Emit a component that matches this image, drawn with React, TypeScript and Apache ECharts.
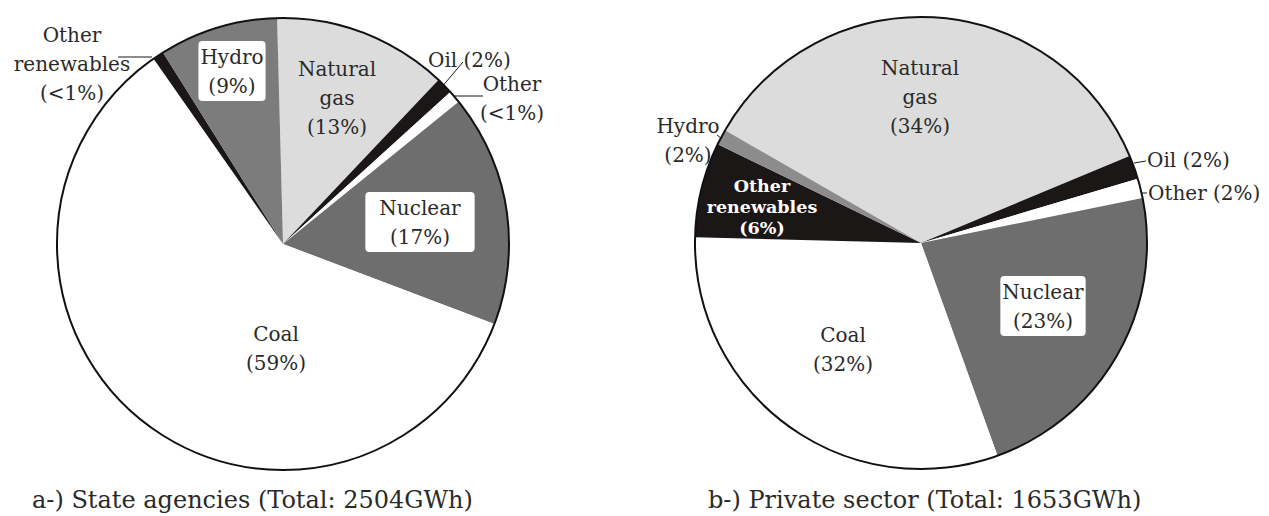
import React, { useEffect, useRef } from "react";
import * as echarts from "echarts";

// ---- data ----
const CATEGORIES = ["Natural gas", "Oil", "Other", "Nuclear", "Coal", "Other renewables", "Hydro"];
const STATE_VALUES = [12.5, 1.2, 0.9, 16.6, 59.6, 0.8, 8.5];
const PRIVATE_VALUES = [35.4, 1.7, 1.4, 22.7, 30.9, 6.8, 1.1];
const STATE_PCT = ["13%", "2%", "<1%", "17%", "59%", "<1%", "9%"];
const PRIVATE_PCT = ["34%", "2%", "2%", "23%", "32%", "6%", "2%"];
const LABEL_NAMES = ["Natural\ngas", "Oil", "Other", "Nuclear", "Coal", "Other\nrenewables", "Hydro"];
const TITLES = ["a-) State agencies (Total: 2504GWh)", "b-) Private sector (Total: 1653GWh)"];

// ---- styles / layout ----
const FONT = "DejaVu Serif";
const TEXT = "#2a2a2a";
const COLORS_A = ["#dcdcdc", "#1c1717", "#ffffff", "#6e6e6e", "#ffffff", "#1c1717", "#7c7c7c"];
const COLORS_B = ["#dcdcdc", "#1c1717", "#ffffff", "#6e6e6e", "#ffffff", "#1c1717", "#8c8c8c"];

type LStyle = {
  x: number; y: number; align?: string; boxed?: boolean; pad?: number[]; sep?: string;
  line?: number[][]; bold?: boolean; color?: string; size?: number; lh?: number;
};

const LAYOUT_A: LStyle[] = [
  { x: 337, y: 98 },
  { x: 428, y: 60, align: "left", sep: " ", line: [[441, 88], [452, 75], [463, 62]] },
  { x: 512, y: 98, line: [[451, 96], [467, 96], [483, 96]] },
  { x: 420, y: 222, boxed: true, pad: [1, 14] },
  { x: 276, y: 348 },
  { x: 72, y: 64, line: [[152, 57], [135, 57], [118, 57]] },
  { x: 232, y: 71, boxed: true, pad: [1, 2] },
];
const LAYOUT_B: LStyle[] = [
  { x: 920, y: 97 },
  { x: 1147, y: 160, align: "left", sep: " ", line: [[1134, 163], [1140, 162], [1146, 161]] },
  { x: 1148, y: 193, align: "left", sep: " ", line: [[1137, 193], [1142, 193], [1147, 193]] },
  { x: 1043, y: 306, boxed: true, pad: [1, 2] },
  { x: 843, y: 349 },
  { x: 762, y: 207, bold: true, color: "#ffffff", size: 17.5, lh: 21 },
  { x: 688, y: 140, line: [[727, 144], [722, 139], [717, 135]] },
];
const LAYOUTS = [LAYOUT_A, LAYOUT_B];

const CENTERS = [[283, 244], [921, 243]];
const RADIUS = 226;
const START_ANGLES = [91.5, 150.1];

function buildData(values: number[], pct: string[], colors: string[], layout: LStyle[]) {
  return CATEGORIES.map((name, i) => {
    const s = layout[i];
    const hasLine = !!s.line;
    return {
      name,
      value: values[i],
      itemStyle: { color: colors[i] },
      label: {
        show: true,
        position: hasLine ? "outside" : "inside",
        formatter: LABEL_NAMES[i] + (s.sep ?? "\n") + "(" + pct[i] + ")",
        fontFamily: FONT,
        fontSize: s.size ?? 20,
        lineHeight: s.lh ?? 29,
        fontWeight: s.bold ? "bold" : "normal",
        color: s.color ?? TEXT,
        rotate: 0,
        backgroundColor: s.boxed ? "#ffffff" : "transparent",
        borderRadius: s.boxed ? 4 : 0,
        padding: s.boxed ? s.pad : 0,
      },
      labelLine: { show: hasLine, lineStyle: { color: "#1a1a1a", width: 1 } },
    };
  });
}

export default function App() {
  const ref = useRef<HTMLDivElement>(null);
  useEffect(() => {
    document.body.style.margin = "0";
    const chart = echarts.init(ref.current!, null, { renderer: "svg" });
    const pieSeries = [0, 1].map((k) => ({
      type: "pie",
      center: CENTERS[k],
      radius: RADIUS,
      startAngle: START_ANGLES[k],
      clockwise: true,
      avoidLabelOverlap: false,
      minAngle: 0,
      itemStyle: { borderWidth: 0 },
      emphasis: { disabled: true },
      data: buildData(
        k === 0 ? STATE_VALUES : PRIVATE_VALUES,
        k === 0 ? STATE_PCT : PRIVATE_PCT,
        k === 0 ? COLORS_A : COLORS_B,
        LAYOUTS[k]
      ),
      labelLayout: (params: any) => {
        const s = LAYOUTS[k][params.dataIndex];
        if (!s) return {};
        const out: any = { x: s.x, y: s.y, align: s.align ?? "center", verticalAlign: "middle" };
        if (s.line) out.labelLinePoints = s.line;
        return out;
      },
      z: 2,
    }));
    const outlines = [0, 1].map((k) => ({
      type: "pie",
      center: CENTERS[k],
      radius: RADIUS,
      silent: true,
      label: { show: false },
      labelLine: { show: false },
      itemStyle: { color: "rgba(0,0,0,0)", borderColor: "#111", borderWidth: 2 },
      data: [{ value: 1, name: "outline" }],
      z: 3,
    }));
    chart.setOption({
      animation: false,
      backgroundColor: "#ffffff",
      title: TITLES.map((t, k) => ({
        text: t,
        left: k === 0 ? 32 : 708,
        top: 488,
        padding: 0,
        textStyle: { fontFamily: FONT, fontSize: 24, fontWeight: "normal", color: TEXT },
      })),
      series: [...pieSeries, ...outlines],
    });
    return () => chart.dispose();
  }, []);
  return <div ref={ref} style={{ width: 1269, height: 516 }} />;
}
